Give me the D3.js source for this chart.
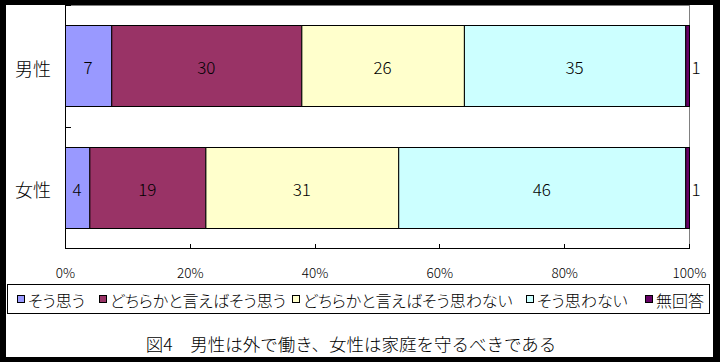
<!DOCTYPE html>
<html><head><meta charset="utf-8">
<script src="https://cdn.jsdelivr.net/npm/d3@7"></script>
<style>
html,body{margin:0;padding:0;background:#000;}
svg{display:block;}
text{font-family:"Noto Sans CJK JP","Noto Sans",sans-serif;font-weight:300;}
.palt{font-feature-settings:"palt";}
</style></head><body>
<svg id="chart" width="720" height="362"></svg>
<script>
// ---- data ----
const categories = ["男性", "女性"];
const seriesNames = ["そう思う", "どちらかと言えばそう思う", "どちらかと言えばそう思わない", "そう思わない", "無回答"];
const soOmou          = [7.4, 3.9];
const dochiraSoOmou   = [30.4, 18.6];
const dochiraOmowanai = [26.0, 30.9];
const soOmowanai      = [35.4, 46.0];
const muKaitou        = [0.6, 0.6];
const xTickValues = [0, 0.2, 0.4, 0.6, 0.8, 1.0];
const title = "図4\u3000男性は外で働き、女性は家庭を守るべきである";

// ---- styles ----
const colors = ["#9999FF", "#993366", "#FFFFCC", "#CCFFFF", "#660066"];

const seriesValues = [soOmou, dochiraSoOmou, dochiraOmowanai, soOmowanai, muKaitou];
const rows = categories.map((c, i) => {
  const r = {cat: c};
  seriesNames.forEach((s, j) => r[s] = seriesValues[j][i]);
  return r;
});

const svg = d3.select("#chart");
// frame
svg.append("rect").attr("x", 0).attr("y", 0).attr("width", 720).attr("height", 362).attr("fill", "#000");
svg.append("rect").attr("x", 6).attr("y", 5).attr("width", 707).attr("height", 352).attr("fill", "#fff");

const plot = {left: 65, right: 689, top: 5, bottom: 248};
const x = d3.scaleLinear().domain([0, 1]).range([plot.left, plot.right]);
const y = d3.scaleBand().domain(categories).range([plot.top, plot.bottom]).padding(0);
const barH = y.bandwidth() * 0.667;

// plot area border (gray)
svg.append("rect").attr("x", plot.left + 0.5).attr("y", plot.top + 0.5)
  .attr("width", plot.right - plot.left).attr("height", plot.bottom - plot.top)
  .attr("fill", "none").attr("stroke", "#808080").attr("stroke-width", 1);

const stack = d3.stack().keys(seriesNames).offset(d3.stackOffsetExpand);
const stacked = stack(rows);

const g = svg.append("g");
stacked.forEach((layer, j) => {
  layer.forEach(d => {
    const cat = d.data.cat;
    const y0 = y(cat) + (y.bandwidth() - barH) / 2;
    g.append("rect")
      .attr("x", x(d[0]) + 0.5)
      .attr("y", Math.round(y0) + 0.5)
      .attr("width", Math.max(0, x(d[1]) - x(d[0])))
      .attr("height", Math.round(barH))
      .attr("fill", colors[j])
      .attr("stroke", "#000").attr("stroke-width", 1);
  });
});

// labels
const fmt = d3.format(".0f");
stacked.forEach((layer, j) => {
  layer.forEach(d => {
    const cat = d.data.cat;
    const cy = y(cat) + y.bandwidth() / 2;
    const w = x(d[1]) - x(d[0]);
    const inside = w > 15;
    g.append("text")
      .attr("x", inside ? (x(d[0]) + x(d[1])) / 2 : x(d[1]) + 7)
      .attr("y", cy + 1)
      .attr("text-anchor", "middle")
      .attr("dominant-baseline", "central")
      .attr("font-size", 17)
      .attr("fill", "#000")
      .text(fmt(d.data[layer.key]));
  });
});

// y axis
svg.append("line").attr("x1", plot.left + 0.5).attr("x2", plot.left + 0.5)
  .attr("y1", plot.top).attr("y2", plot.bottom + 0.5).attr("stroke", "#000");
const bounds = d3.range(categories.length + 1).map(i => plot.top + i * y.step());
svg.selectAll(".ctick").data(bounds).enter().append("line")
  .attr("x1", plot.left).attr("x2", plot.left + 6)
  .attr("y1", d => Math.round(d) + 0.5).attr("y2", d => Math.round(d) + 0.5)
  .attr("stroke", "#000");
svg.selectAll(".clabel").data(categories).enter().append("text")
  .attr("x", 51).attr("y", d => y(d) + y.bandwidth() / 2 + 2)
  .attr("text-anchor", "end").attr("dominant-baseline", "central")
  .attr("font-size", 18).attr("fill", "#000").text(d => d);

// x axis
svg.append("line").attr("x1", plot.left).attr("x2", plot.right + 1)
  .attr("y1", plot.bottom + 0.5).attr("y2", plot.bottom + 0.5).attr("stroke", "#000");
svg.selectAll(".xtick").data(xTickValues).enter().append("line")
  .attr("x1", d => Math.round(x(d)) + 0.5).attr("x2", d => Math.round(x(d)) + 0.5)
  .attr("y1", plot.bottom - 4).attr("y2", plot.bottom)
  .attr("stroke", "#000");
svg.selectAll(".xlabel").data(xTickValues).enter().append("text")
  .attr("x", d => x(d) + 0.5).attr("y", 272)
  .attr("text-anchor", "middle").attr("dominant-baseline", "central")
  .attr("font-size", 13.5).attr("fill", "#000")
  .text(d => d3.format(".0%")(d));

// legend
const legendBox = {x: 7, y: 284, w: 702, h: 29};
svg.append("rect").attr("x", legendBox.x + 0.5).attr("y", legendBox.y + 0.5)
  .attr("width", legendBox.w).attr("height", legendBox.h)
  .attr("fill", "#fff").attr("stroke", "#000");
const legendX = [17, 99, 292, 526, 645];
const lg = svg.append("g");
seriesNames.forEach((s, j) => {
  lg.append("rect").attr("x", legendX[j] + 0.5).attr("y", 295.5).attr("width", 7).attr("height", 7)
    .attr("fill", colors[j]).attr("stroke", "#000");
  lg.append("text").attr("class", "palt").attr("x", legendX[j] + 11).attr("y", 299.5)
    .attr("dominant-baseline", "central").attr("font-size", 16).attr("fill", "#000")
    .text(s);
});

// title
svg.append("text").attr("x", 351).attr("y", 343)
  .attr("text-anchor", "middle").attr("dominant-baseline", "central")
  .attr("font-size", 17.5).attr("fill", "#000").text(title);
</script>
</body></html>
